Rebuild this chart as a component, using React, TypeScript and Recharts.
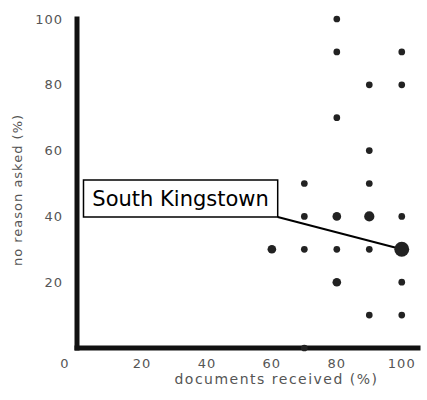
import {
  ScatterChart,
  Scatter,
  XAxis,
  YAxis,
  ZAxis,
  ReferenceLine,
  ReferenceArea,
  Label,
} from "recharts"

// one entry per plotted point
const DOCS_RECEIVED = [80, 80, 100, 90, 100, 80, 90, 70, 90, 70, 80, 90, 100, 60, 70, 80, 90, 100, 80, 100, 90, 100, 70]
const NO_REASON = [100, 90, 90, 80, 80, 70, 60, 50, 50, 40, 40, 40, 40, 30, 30, 30, 30, 30, 20, 20, 10, 10, 0]
const TOWNS = [1, 1, 1, 1, 1, 1, 1, 1, 1, 1, 2, 3, 1, 2, 1, 1, 1, 7, 2, 1, 1, 1, 1]

const X_TICKS = [0, 20, 40, 60, 80, 100]
const Y_TICKS = [20, 40, 60, 80, 100]

const HIGHLIGHT = { name: "South Kingstown", docs: 100, noReason: 30 }

const FONT = "'DejaVu Sans', sans-serif"

const rows = DOCS_RECEIVED.map((d, i) => ({ docs: d, noReason: NO_REASON[i], towns: TOWNS[i] }))

function XTick({ x, y, payload }: any) {
  // the zero sits in the corner, a bit to the left of the axis
  const dx = payload.value === 0 ? -12 : 0
  return (
    <text x={x + dx} y={y} dy={12} textAnchor="middle" fill="#555" fontSize={13} letterSpacing={1} fontFamily={FONT}>
      {payload.value}
    </text>
  )
}

export default function App() {
  return (
    <div style={{ position: "absolute", left: 0, top: 0 }}>
      <ScatterChart width={427} height={400} margin={{ top: 19, right: 9, bottom: 0, left: 0 }}>
        <XAxis
          type="number"
          dataKey="docs"
          domain={[0, 105]}
          ticks={X_TICKS}
          tickLine={false}
          axisLine={{ stroke: "#111", strokeWidth: 5, strokeLinecap: "square" }}
          height={52}
          tick={<XTick />}
        >
          <Label
            value="documents received (%)"
            position="insideBottom"
            offset={16}
            dx={29}
            fill="#555"
            fontSize={14}
            letterSpacing={1.5}
            fontFamily={FONT}
          />
        </XAxis>
        <YAxis
          type="number"
          dataKey="noReason"
          domain={[0, 100]}
          ticks={Y_TICKS}
          tickLine={false}
          axisLine={{ stroke: "#111", strokeWidth: 5, strokeLinecap: "square" }}
          width={77}
          tickMargin={8}
          tick={{ fill: "#555", fontSize: 13, letterSpacing: 1, fontFamily: FONT }}
        >
          <Label
            content={() => (
              <text
                x={22}
                y={190}
                transform="rotate(-90 22 190)"
                textAnchor="middle"
                fill="#555"
                fontSize={13}
                letterSpacing={1}
                fontFamily={FONT}
              >
                no reason asked (%)
              </text>
            )}
          />
        </YAxis>
        <ZAxis type="number" dataKey="towns" range={[12, 175]} />
        <Scatter data={rows} fill="#222" isAnimationActive={false} />
        <ReferenceLine
          segment={[
            { x: 61.8, y: 39.8 },
            { x: HIGHLIGHT.docs, y: HIGHLIGHT.noReason },
          ]}
          stroke="#000"
          strokeWidth={2}
          ifOverflow="visible"
        />
        <ReferenceArea
          x1={2}
          x2={61.8}
          y1={39.8}
          y2={51.1}
          fill="#fff"
          fillOpacity={1}
          stroke="#000"
          strokeWidth={1.5}
          ifOverflow="visible"
        >
          <Label value={HIGHLIGHT.name} position="center" fill="#000" fontSize={21} fontFamily={FONT} />
        </ReferenceArea>
      </ScatterChart>
    </div>
  )
}
